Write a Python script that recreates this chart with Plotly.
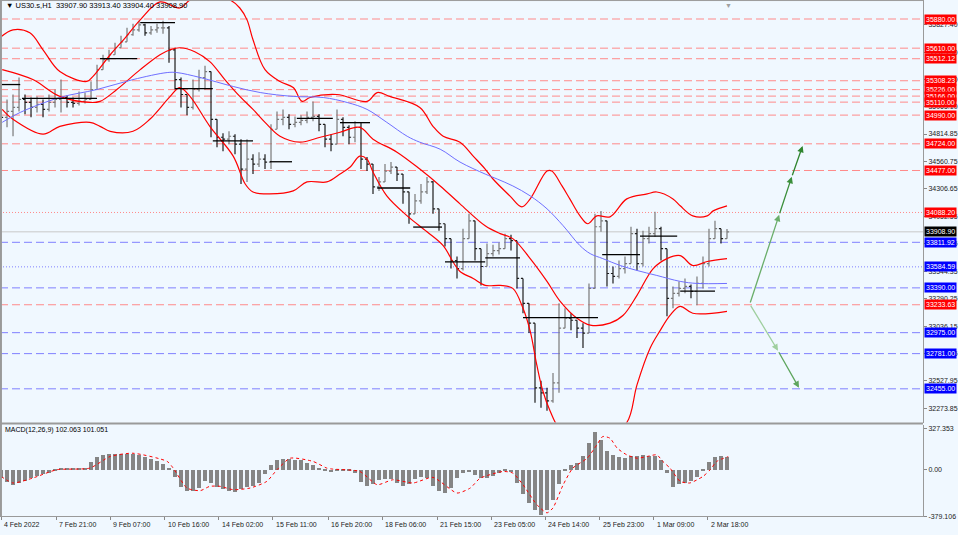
import plotly.graph_objects as go

# ---- price bars (one bar = 6 px of the original H1 chart) ----
closes = [34969, 35024, 35061, 35135, 35107, 35061, 35089, 35043, 35107, 35135,
          35153, 35107, 35098, 35117, 35135, 35227, 35411, 35503, 35549, 35614,
          35669, 35734, 35780, 35826, 35752, 35780, 35798, 35798, 35595, 35319,
          35181, 35061, 35227, 35338, 35393, 34951, 34785, 34767, 34794, 34721,
          34490, 34582, 34536, 34582, 34555, 34859, 34951, 34969, 34905, 34923,
          34942, 34969, 34978, 34905, 34767, 34721, 34951, 34877, 34785, 34877,
          34582, 34536, 34325, 34371, 34472, 34509, 34444, 34279, 34076, 34196,
          34279, 34371, 34122, 33984, 33846, 33643, 33569, 33846, 34011, 33753,
          33588, 33707, 33735, 33753, 33846, 33827, 33477, 33247, 33063, 32464,
          32418, 32344, 32510, 33017, 33109, 33090, 33017, 32971, 33385, 33956,
          34011, 33523, 33496, 33569, 33615, 33892, 33615, 33846, 33892, 33938,
          33753, 33293, 33339, 33385, 33403, 33357, 33431, 33615, 33846, 33938,
          33846, 33908.9]
highs = [35181, 35135, 35181, 35338, 35181, 35153, 35163, 35135, 35181, 35227,
         35319, 35172, 35153, 35209, 35199, 35301, 35457, 35549, 35595, 35660,
         35724, 35798, 35835, 35863, 35835, 35816, 35835, 35863, 35816, 35614,
         35338, 35181, 35319, 35411, 35448, 35245, 34831, 34822, 34840, 34813,
         34767, 34767, 34628, 34647, 34628, 34905, 35024, 35043, 34997, 34978,
         34988, 35024, 35117, 34997, 34905, 34813, 35043, 34969, 34896, 34932,
         34923, 34601, 34536, 34417, 34536, 34555, 34509, 34417, 34232, 34260,
         34352, 34417, 34380, 34122, 33956, 33800, 33680, 33938, 34076, 33984,
         33753, 33800, 33790, 33809, 33892, 33882, 33800, 33403, 33155, 33017,
         32529, 32464, 32602, 33247, 33201, 33155, 33090, 33063, 33431, 34076,
         34103, 34011, 33588, 33643, 33680, 33956, 33938, 33919, 33956, 34094,
         33956, 33753, 33403, 33450, 33477, 33422, 33496, 33680, 33938, 34011,
         33919, 33935]
lows = [34859, 34877, 34794, 35024, 34997, 34969, 35015, 34969, 35024, 35061,
        35015, 35061, 35061, 35080, 35098, 35135, 35301, 35411, 35485, 35549,
        35614, 35688, 35724, 35761, 35724, 35734, 35752, 35743, 35476, 35227,
        35061, 34988, 35043, 35209, 35227, 34785, 34693, 34656, 34721, 34628,
        34352, 34371, 34444, 34509, 34490, 34490, 34877, 34896, 34859, 34877,
        34896, 34914, 34932, 34840, 34693, 34656, 34859, 34794, 34721, 34739,
        34490, 34472, 34260, 34288, 34398, 34444, 34380, 34168, 33984, 34122,
        34168, 34260, 34076, 33919, 33772, 33569, 33477, 33551, 33892, 33643,
        33413, 33615, 33680, 33698, 33772, 33735, 33385, 33155, 32971, 32326,
        32280, 32252, 32326, 32418, 33035, 32998, 32925, 32832, 33017, 33385,
        33910, 33403, 33431, 33477, 33523, 33615, 33551, 33588, 33800, 33864,
        33643, 33127, 33201, 33311, 33339, 33293, 33228, 33385, 33588, 33864,
        33800, 33880]
first_open = 35000
last_price = 33908.90

# ---- Bollinger bands and moving average (bar index, price) ----
bb_up_x = [0, 2, 4.8, 7, 9.8, 14.3, 15.3, 18.2, 20.7, 23.2, 26.5, 29.8, 31.5, 33.2, 35.7,
           38.2, 39.8, 41, 42, 44, 46.5, 48.7, 50.2, 51.5, 56, 61, 62.7, 64.8, 69.8, 72,
           73.7, 76.5, 78.7, 80.7, 82, 84.8, 86.8, 88.2, 91, 91.8, 93.5, 94.8, 96.5, 97.8,
           99.3, 101.5, 104.3, 107.7, 109.3, 112, 113.2, 115.3, 117.7, 118.7, 121]
bb_up = [35715, 35780, 35752, 35595, 35393, 35301, 35347, 35549, 35706, 35872, 36038, 35982,
         36056, 36084, 36093, 36056, 35982, 35872, 35688, 35411, 35301, 35245, 35117, 35153,
         35181, 35117, 35199, 35163, 35061, 34886, 34794, 34739, 34610, 34490, 34398, 34242,
         34140, 34214, 34472, 34472, 34334, 34214, 34057, 33984, 34057, 34048, 34214, 34260,
         34278, 34214, 34150, 34057, 34057, 34103, 34150]
bb_mid_x = [0.2, 5.3, 9.8, 14.8, 16.5, 19.3, 23.2, 26.5, 28.2, 29.8, 32.3, 34.8, 37.3, 39.8,
            42, 44, 46.5, 49.8, 53.2, 56.5, 59.8, 62, 66, 69.8, 73.2, 76.5, 80.7, 83.2, 85.3,
            88.2, 91, 93.2, 96, 98.2, 101.5, 103.7, 106, 108.7, 111, 113.2, 115.3, 117.7, 121]
bb_mid = [35411, 35319, 35163, 35107, 35117, 35227, 35411, 35549, 35595, 35614, 35577, 35485,
          35319, 35163, 35043, 34923, 34794, 34739, 34785, 34831, 34877, 34767, 34647, 34490,
          34334, 34168, 33965, 33892, 33846, 33661, 33450, 33265, 33109, 33045, 33063, 33136,
          33321, 33569, 33661, 33689, 33597, 33634, 33661]
bb_low_x = [0.2, 2, 7, 9.8, 14.8, 16.5, 18.2, 22, 24.8, 28.2, 29.8, 31.5, 34.8, 38.7, 40.7,
            42, 44.8, 48.7, 51, 54.3, 56.5, 58.2, 59.8, 61, 62, 64.3, 67.7, 71, 73.7, 75.3,
            76.5, 78.7, 80.7, 83.2, 85.3, 87, 88.2, 89.3, 90.3, 91.5, 93.2, 96.5, 100.7,
            104.3, 106, 108.2, 109.8, 111.5, 113.2, 115.3, 121]
bb_low = [35043, 34951, 34813, 34886, 34923, 34886, 34840, 34840, 34951, 35163, 35245, 35163,
          34886, 34610, 34352, 34278, 34260, 34288, 34371, 34371, 34444, 34509, 34610, 34582,
          34463, 34242, 34057, 33910, 33781, 33634, 33542, 33477, 33413, 33413, 33385, 33201,
          32989, 32676, 32437, 32252, 32077, 31985, 32004, 32142, 32492, 32833, 32989, 33136,
          33219, 33155, 33173]
ma_x = [0.2, 3.2, 9.8, 16, 22, 27.7, 29.3, 33.2, 38.7, 43.2, 48.7, 53.7, 57.7, 61, 64.3,
        67.7, 69.8, 73.2, 76.5, 80.7, 82.7, 85.3, 88.2, 91, 93.7, 96.5, 98.2, 100.3, 103.2,
        106, 109.3, 113.2, 116, 121]
ma = [34923, 35015, 35153, 35227, 35319, 35384, 35384, 35338, 35255, 35199, 35163, 35153,
      35107, 35043, 34923, 34794, 34739, 34674, 34555, 34444, 34398, 34334, 34242, 34122,
      33965, 33781, 33707, 33661, 33597, 33551, 33505, 33450, 33431, 33431]

# ---- black daily segments ----
seg_start = [-0.2, 3.5, 16.5, 23.2, 29, 35.3, 44.8, 49.3, 56.5, 62.7, 68.7, 74, 80.7, 87,
             100.2, 106.5, 113.2]
seg_end = [3.2, 16, 22.7, 29, 35.3, 42, 48.5, 55.3, 61.5, 68.2, 73.5, 80.7, 86.5, 99.5,
           106.5, 112.7, 119]
seg_price = [35273, 35144, 35513, 35847, 35236, 34751, 34558, 34960, 34920, 34315, 33953,
             33631, 33668, 33115, 33698, 33870, 33360]

# ---- horizontal levels ----
red_levels = [35880.00, 35610.00, 35512.12, 35308.23, 35226.00, 35166.00, 35110.00,
              34990.00, 34724.00, 34477.00, 33233.63]
red_dotted = [34088.20]
blue_levels = [33811.92, 33390.00, 32975.00, 32781.00, 32455.00]
blue_dotted = [33584.59]

price_ticks = [35827.40, 35573.30, 35319.20, 35065.10, 34814.85, 34560.75, 34306.65,
               34052.55, 33798.45, 33544.35, 33290.25, 33036.15, 32782.05, 32527.95, 32273.85]

# ---- forecast arrows ----
up_x = [124.8, 129.7, 131.8, 133.6]
up_p = [33240, 34067, 34419, 34705]
down_x = [124.8, 129.5, 133.0]
down_p = [33240, 32808, 32464]

# ---- MACD ----
hist = [-70, -100, -125, -110, -90, -70, -55, -40, -25, -10,
        5, 8, 5, 8, 10, 60, 100, 120, 125, 128,
        128, 125, 122, 115, 100, 85, 70, 45, 5, -60,
        -140, -175, -172, -150, -95, -110, -140, -160, -170, -178,
        -160, -140, -130, -110, -40, 40, 80, 88, 85, 80,
        75, 55, 40, 15, -5, -20, -5, -5, -10, -30,
        -100, -135, -120, -85, -75, -80, -105, -135, -120, -80,
        -60, -70, -130, -175, -190, -150, -70, -30, -20, -45,
        -70, -72, -55, -30, -10, -20, -110, -200, -270, -330,
        -365, -330, -250, -120, -10, 40, 55, 110, 210, 300,
        240, 150, 115, 100, 95, 105, 110, 115, 112, 110,
        80, -30, -140, -120, -105, -90, -60, -10, 60, 100,
        108, 102.063]
sig_x = [0, 2, 5.3, 9.3, 14.8, 18.2, 22, 27.7, 28.7, 31, 33.2, 34.8, 36.5, 38.7, 41.5, 44.3,
         46, 48.2, 52, 54.3, 55.3, 59.8, 62.7, 65.3, 68.7, 72, 76, 78.2, 79.8, 81.5, 83.7,
         85.3, 87, 89.3, 91, 92, 93.7, 95.3, 97.7, 99.3, 100.3, 101.5, 102.7, 104.3, 106,
         107.7, 109.3, 110.3, 111.5, 113.2, 114.8, 117, 118.2, 119.3, 121.2]
signal = [-59, -112, -72, -5, 8, 102, 128, 62, 8, -153, -174, -139, -139, -166, -153, -99,
          -5, 88, 62, 8, 0, -19, -126, -86, -112, -67, -193, -153, -75, -45, -19,
          -32, -126, -287, -353, -313, -126, 8, 88, 195, 263, 249, 169, 115, 88,
          102, 115, 62, 8, -99, -112, -59, -5, 62, 101.051]

tick_pos = [0, 9.2, 18.2, 27.3, 36.3, 45.3, 54.5, 63.5, 72.7, 81.7, 90.7, 99.8, 108.8, 117.8]
tick_text = ["4 Feb 2022", "7 Feb 21:00", "9 Feb 07:00", "10 Feb 16:00", "14 Feb 02:00",
             "15 Feb 11:00", "16 Feb 20:00", "18 Feb 06:00", "21 Feb 15:00", "23 Feb 05:00",
             "24 Feb 14:00", "25 Feb 23:00", "1 Mar 09:00", "2 Mar 18:00"]

FONT = "Liberation Sans"
BG = "#f0f8ff"
X_END = 923 / 958
X_RANGE = [-0.17, 153.67]

bars = list(range(len(closes)))
opens = [first_open] + closes[:-1]
# keep the wicks around open and close
hi = [max(h, o, c) for h, o, c in zip(highs, opens, closes)]
lo = [min(l, o, c) for l, o, c in zip(lows, opens, closes)]

fig = go.Figure()

seg_x, seg_y = [], []
for s, e, p in zip(seg_start, seg_end, seg_price):
    seg_x += [s, e, None]
    seg_y += [p, p, None]

for xs, ys in [(bb_up_x, bb_up), (bb_mid_x, bb_mid), (bb_low_x, bb_low)]:
    fig.add_trace(go.Scatter(x=xs, y=ys, mode="lines", line=dict(color="#ff0000", width=1.2, shape="spline"),
                             hoverinfo="skip", xaxis="x", yaxis="y"))
fig.add_trace(go.Scatter(x=ma_x, y=ma, mode="lines", line=dict(color="#6f6fff", width=1, shape="spline"),
                         hoverinfo="skip", xaxis="x", yaxis="y"))
fig.add_trace(go.Scatter(x=seg_x, y=seg_y, mode="lines", line=dict(color="#000000", width=1.3),
                         hoverinfo="skip", xaxis="x", yaxis="y"))
fig.add_trace(go.Ohlc(x=bars, open=opens, high=hi, low=lo, close=closes,
                      increasing_line_color="#7a7a7a", decreasing_line_color="#1e1e1e",
                      line_width=1.2, tickwidth=0.35, hoverinfo="skip", xaxis="x", yaxis="y"))

fig.add_trace(go.Bar(x=bars, y=hist, width=0.6, marker=dict(color="#858585", line_width=0),
                     hoverinfo="skip", xaxis="x2", yaxis="y2"))
fig.add_trace(go.Scatter(x=sig_x, y=signal, mode="lines",
                         line=dict(color="#ff0000", width=1, dash="dot", shape="spline", smoothing=0.6),
                         hoverinfo="skip", xaxis="x2", yaxis="y2"))

shapes = []
def hline(p, color, dash):
    shapes.append(dict(type="line", xref="paper", yref="y", x0=0, x1=X_END, y0=p, y1=p,
                       line=dict(color=color, width=1, dash=dash), layer="below"))

hline(last_price, "#c8c8c8", "solid")
for p in red_levels:
    hline(p, "#ff8a8a", "8px,4px")
for p in red_dotted:
    hline(p, "#ff8a8a", "1px,2px")
for p in blue_levels:
    hline(p, "#8080ff", "8px,4px")
for p in blue_dotted:
    hline(p, "#8080ff", "1px,2px")

# frame lines
shapes.append(dict(type="line", xref="paper", yref="paper", x0=0, x1=X_END, y0=0.999, y1=0.999,
                   line=dict(color="#9a9a9a", width=1)))
shapes.append(dict(type="line", xref="paper", yref="paper", x0=0.001, x1=0.001, y0=0.03, y1=1,
                   line=dict(color="#9a9a9a", width=2)))
shapes.append(dict(type="line", xref="paper", yref="paper", x0=0, x1=X_END, y0=1 - 426 / 535,
                   y1=1 - 426 / 535, line=dict(color="#9a9a9a", width=2)))

annotations = []
def price_box(p, text, bg):
    annotations.append(dict(xref="paper", yref="y", x=X_END + 0.001, y=p, xanchor="left",
                            yanchor="middle", text=text, showarrow=False, bgcolor=bg,
                            font=dict(family=FONT, size=7, color="#ffffff"), borderpad=1))

for p in red_levels + red_dotted:
    price_box(p, f"{p:.2f}", "#ff0000")
for p in blue_levels + blue_dotted:
    price_box(p, f"{p:.2f}", "#0000ff")
price_box(last_price, f"{last_price:.2f}", "#000000")

# forecast arrows
def arrow_path(xs, ps, colors):
    for i in range(1, len(xs)):
        annotations.append(dict(x=xs[i], y=ps[i], ax=xs[i - 1], ay=ps[i - 1], xref="x", yref="y",
                                axref="x", ayref="y", showarrow=True, arrowhead=2, arrowsize=1,
                                arrowwidth=1.3, arrowcolor=colors[i - 1], text=""))

arrow_path(up_x, up_p, ["#6aae6a", "#3b8f3b", "#2f852f"])
arrow_path(down_x, down_p, ["#9fcf9f", "#5ea55e"])

annotations.append(dict(xref="paper", yref="paper", x=0.004, y=1 - 6 / 535, xanchor="left",
                        yanchor="middle", showarrow=False,
                        text="▼ US30.s,H1  33907.90 33913.40 33904.40 33908.90",
                        font=dict(family=FONT, size=7.5, color="#000000")))
annotations.append(dict(xref="paper", yref="paper", x=0.003, y=1 - 432 / 535, xanchor="left",
                        yanchor="middle", showarrow=False, text="MACD(12,26,9) 102.063 101.051",
                        font=dict(family=FONT, size=7, color="#000000")))
annotations.append(dict(xref="x", yref="paper", x=121.2, y=1, xanchor="center", yanchor="top",
                        showarrow=False, text="▼", font=dict(family=FONT, size=7, color="#a0a0a0")))
for pos, txt in zip(tick_pos, tick_text):
    annotations.append(dict(xref="x2", yref="paper", x=pos, y=1 - 527 / 535, xanchor="left",
                            yanchor="middle", showarrow=False, text=txt, xshift=1,
                            font=dict(family=FONT, size=7, color="#222222")))

fig.update_layout(
    width=958, height=535,
    margin=dict(l=0, r=0, t=0, b=0),
    paper_bgcolor=BG, plot_bgcolor=BG,
    showlegend=False,
    bargap=0,
    xaxis=dict(domain=[0, X_END], range=X_RANGE, anchor="y", showticklabels=False,
               showgrid=False, zeroline=False, rangeslider=dict(visible=False), ticks=""),
    yaxis=dict(domain=[1 - 425 / 535, 1], range=[32142, 36056], side="right", anchor="x",
               tickvals=price_ticks, ticktext=[f"{v:.2f}" for v in price_ticks],
               tickfont=dict(family=FONT, size=7, color="#222222"), ticks="outside", ticklen=3,
               tickcolor="#888888", showline=True, linecolor="#9a9a9a", linewidth=1,
               showgrid=False, zeroline=False),
    xaxis2=dict(domain=[0, X_END], range=X_RANGE, anchor="y2", tickvals=tick_pos,
                ticktext=["" for _ in tick_pos], ticks="outside", ticklen=3, tickcolor="#888888",
                showline=True, linecolor="#9a9a9a", linewidth=1, showgrid=False, zeroline=False),
    yaxis2=dict(domain=[1 - 519 / 535, 1 - 427 / 535], range=[-379.106, 359], side="right",
                anchor="x2", tickvals=[327.353, 0, -379.106], ticktext=["327.353", "0.00", "-379.106"],
                tickfont=dict(family=FONT, size=7, color="#222222"), ticks="outside", ticklen=3,
                tickcolor="#888888", showline=True, linecolor="#9a9a9a", linewidth=1,
                showgrid=False, zeroline=False),
    shapes=shapes,
    annotations=annotations,
)

# the page keeps the browser's default body margin otherwise
fig.write_html("out.html", config={"displayModeBar": False},
               post_script="document.body.style.margin='0';")
